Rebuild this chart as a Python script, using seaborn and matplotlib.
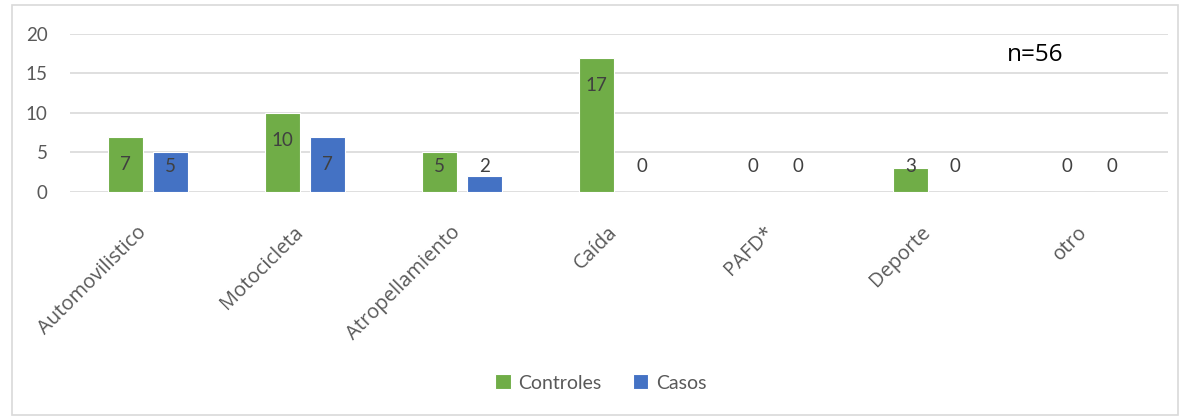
import seaborn as sns
import matplotlib.pyplot as plt
import matplotlib.transforms as mtransforms
import pandas as pd
from matplotlib.patches import Rectangle

categorias = ['Automovilistico', 'Motocicleta', 'Atropellamiento', 'Caída',
              'PAFD*', 'Deporte', 'otro']
controles = [7, 10, 5, 17, 0, 3, 0]
casos = [5, 7, 2, 0, 0, 0, 0]
series = ['Controles', 'Casos']

df = pd.DataFrame({
    'categoria': categorias * 2,
    'valor': controles + casos,
    'grupo': ['Controles'] * len(categorias) + ['Casos'] * len(categorias),
})

sns.set_style('white')
plt.rcParams['font.family'] = ['Lato', 'DejaVu Sans']
gris = '#595959'

fig = plt.figure(figsize=(11.9, 4.19), dpi=100)
ax = fig.add_axes([0.0588, 0.5418, 0.9227, 0.3771])
sns.barplot(data=df, x='categoria', y='valor', hue='grupo', hue_order=series,
            palette={'Controles': '#70AD47', 'Casos': '#4472C4'},
            width=0.573, gap=0.22, edgecolor='white', linewidth=0.8,
            saturation=1, ax=ax, legend=True)

ax.set_ylim(0, 20)
ax.set_yticks([0, 5, 10, 15, 20])
ax.yaxis.grid(True, color='#D9D9D9', linewidth=1.2)
ax.set_axisbelow(True)
for s in ax.spines.values():
    s.set_visible(False)
ax.set_xlabel('')
ax.set_ylabel('')
ax.tick_params(axis='y', length=0, labelsize=13.5, labelcolor=gris, pad=16)
ax.tick_params(axis='x', length=0, labelsize=14.5, labelcolor=gris, pad=27)
desplaza = mtransforms.ScaledTranslation(-5 / 100, 0, fig.dpi_scale_trans)
for lab in ax.get_xticklabels():
    lab.set_rotation(45)
    lab.set_ha('right')
    lab.set_va('center')
    lab.set_rotation_mode('anchor')
    lab.set_family(['Open Sans', 'DejaVu Sans'])
    lab.set_transform(lab.get_transform() + desplaza)

# etiquetas de datos
for cont in ax.containers:
    for rect in cont:
        v = rect.get_height()
        y = max(v - 3.5, 3.2)
        ax.text(rect.get_x() + rect.get_width() / 2, y, f'{int(v)}',
                ha='center', va='center', fontsize=13.5, color='#404040')

ax.text(0.879, 17.3, 'n=56', transform=ax.get_yaxis_transform(), ha='center',
        va='center', fontsize=17.5, color='black', family=['Open Sans', 'DejaVu Sans'])

leg = ax.legend(loc='center', bbox_to_anchor=(0.505, (419 - 383) / 419),
                bbox_transform=fig.transFigure, ncol=2, frameon=False,
                fontsize=14, handlelength=0.8, handleheight=0.8,
                columnspacing=1.6, handletextpad=0.4)
for t in leg.get_texts():
    t.set_color(gris)

fig.patches.append(Rectangle((12 / 1190, 4 / 419), 1166 / 1190, 410 / 419,
                             transform=fig.transFigure, fill=False,
                             edgecolor='#D9D9D9', linewidth=1.2))

fig.savefig('out.png', dpi=100)
